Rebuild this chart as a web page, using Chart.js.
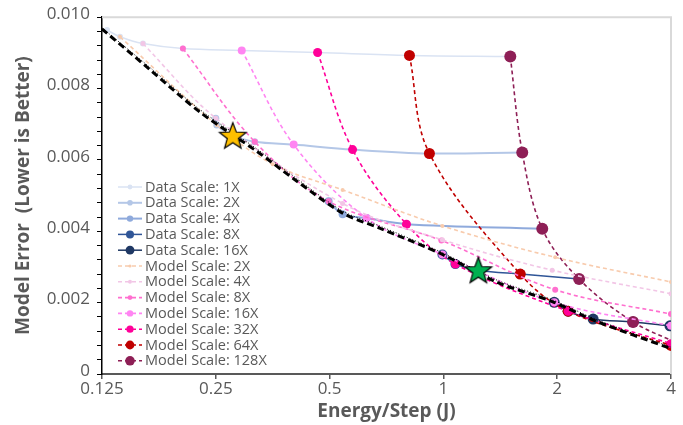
<!DOCTYPE html>
<html>
<head>
<meta charset="utf-8">
<script src="https://cdn.jsdelivr.net/npm/chart.js@4"></script>
<style>
  html, body { margin: 0; padding: 0; background: #fff; }
  #wrap { width: 683px; height: 425px; }
</style>
</head>
<body>
<div id="wrap"><canvas id="chart"></canvas></div>
<script>
// tick labels on the energy axis
const xTicks = [0.125, 0.25, 0.5, 1, 2, 4];

// data scale series: [energy per step (J), model error]
const dataScale1x = [[0.1289, 0.00964], [0.1395, 0.00945], [0.1604, 0.00926], [0.2046, 0.00912], [0.2928, 0.00907], [0.4648, 0.00901], [0.8132, 0.00893], [1.503, 0.00890]];
const dataScale2x = [[0.25, 0.00717], [0.2515, 0.00698], [0.2772, 0.00668], [0.3169, 0.00651], [0.4017, 0.00643], [0.5751, 0.00629], [0.9184, 0.00618], [1.6165, 0.00621]];
const dataScale4x = [[0.497, 0.00484], [0.5412, 0.00448], [0.6261, 0.00437], [0.7985, 0.00420], [1.8258, 0.00407]];
const dataScale8x = [[0.9939, 0.00335], [1.0757, 0.00308], [1.2372, 0.00291], [1.597, 0.00280], [2.286, 0.00266]];
const dataScale16x = [[1.964, 0.00201], [2.138, 0.00176], [2.4895, 0.00154], [3.175, 0.00146], [3.975, 0.00135]];

// model scale series
const modelScale2x = [[0.1395, 0.00945], [0.2515, 0.00698], [0.3536, 0.00588], [0.5412, 0.00516], [0.9939, 0.00415], [1.976, 0.00327], [4.0, 0.00258]];
const modelScale4x = [[0.1604, 0.00926], [0.25, 0.00717], [0.5412, 0.00478], [0.9939, 0.00376], [1.94, 0.00291], [4.0, 0.00225]];
const modelScale8x = [[0.2046, 0.00912], [0.3169, 0.00651], [0.497, 0.00484], [0.9879, 0.00374], [1.976, 0.00236], [4.0, 0.00168]];
const modelScale16x = [[0.2928, 0.00907], [0.4017, 0.00643], [0.6261, 0.00437], [0.9939, 0.00335], [1.964, 0.00201], [4.0, 0.00135]];
const modelScale32x = [[0.4648, 0.00901], [0.5751, 0.00629], [0.7985, 0.00420], [1.0757, 0.00308], [2.138, 0.00176], [4.0, 0.00085]];
const modelScale64x = [[0.8132, 0.00893], [0.9184, 0.00618], [1.597, 0.00280], [2.138, 0.00176], [4.0, 0.00080]];
const modelScale128x = [[1.503, 0.00890], [1.6165, 0.00621], [1.8258, 0.00407], [2.286, 0.00266], [3.175, 0.00146], [4.3, 0.00080]];

// frontier lines (dashed and dotted black)
const frontierDashed = [[0.125, 0.00967], [0.167, 0.00854], [0.227, 0.00734], [0.321, 0.00624], [0.409, 0.00541], [0.541, 0.00451], [0.678, 0.00409], [0.994, 0.00335], [1.38, 0.00258], [1.94, 0.00203], [2.535, 0.00148], [4.0, 0.00071]];
const frontierDotted = [[0.125, 0.00970], [0.167, 0.00860], [0.227, 0.00741], [0.321, 0.00631], [0.409, 0.00548], [0.541, 0.00457], [0.678, 0.00415], [0.994, 0.00340], [1.38, 0.00264], [1.94, 0.00208], [2.535, 0.00153], [4.0, 0.00075]];

// highlighted points
const goldStar = [[0.2772, 0.00665]];
const greenStar = [[1.2372, 0.00288]];

const pts = arr => arr.map(p => ({ x: p[0], y: p[1] }));

function starImage(fill, r) {
    const c = document.createElement('canvas');
    const s = Math.ceil(r * 2 + 4);
    c.width = s; c.height = s;
    const g = c.getContext('2d');
    g.beginPath();
    for (let i = 0; i < 10; i++) {
        const a = -Math.PI / 2 + i * Math.PI / 5;
        const rr = i % 2 ? r * 0.42 : r;
        g.lineTo(s / 2 + rr * Math.cos(a), s / 2 + rr * Math.sin(a));
    }
    g.closePath();
    g.fillStyle = fill;
    g.fill();
    g.lineWidth = 1.2;
    g.strokeStyle = '#000';
    g.stroke();
    return c;
}

function dataSeries(label, data, color, width, radius) {
    return {
        label, data: pts(data), borderColor: color, backgroundColor: color,
        pointBackgroundColor: color, pointBorderColor: color, pointBorderWidth: 0,
        borderWidth: width, pointRadius: radius, tension: 0.35, order: 3
    };
}
function modelSeries(label, data, color, radius) {
    return {
        label, data: pts(data), borderColor: color, backgroundColor: color,
        pointBackgroundColor: color, pointBorderColor: color, pointBorderWidth: 0,
        borderWidth: 1.6, borderDash: [4, 3], pointRadius: radius, tension: 0.35, order: 2
    };
}

const datasets = [
    dataSeries('Data Scale: 1X', dataScale1x, '#dae3f3', 1.5, 3),
    dataSeries('Data Scale: 2X', dataScale2x, '#b4c7e7', 2, 3.5),
    dataSeries('Data Scale: 4X', dataScale4x, '#8faadc', 2, 4),
    dataSeries('Data Scale: 8X', dataScale8x, '#2f5597', 1.5, 5),
    dataSeries('Data Scale: 16X', dataScale16x, '#1f3864', 1.5, 5.5),
    modelSeries('Model Scale: 2X', modelScale2x, '#f8cbad', 2),
    modelSeries('Model Scale: 4X', modelScale4x, '#f2c6e6', 2.5),
    modelSeries('Model Scale: 8X', modelScale8x, '#ff6fcf', 3),
    modelSeries('Model Scale: 16X', modelScale16x, '#ff85f2', 4),
    modelSeries('Model Scale: 32X', modelScale32x, '#ff0099', 4.5),
    modelSeries('Model Scale: 64X', modelScale64x, '#c00000', 5.5),
    modelSeries('Model Scale: 128X', modelScale128x, '#8e1f56', 6),
    { data: pts(frontierDashed), borderColor: '#000', borderWidth: 3, borderDash: [7, 4], pointRadius: 0, tension: 0.3, order: 1 },
    { data: pts(frontierDotted), borderColor: '#000', borderWidth: 1, borderDash: [1, 2], pointRadius: 0, tension: 0.3, order: 1 },
    { data: pts(goldStar), showLine: false, pointStyle: starImage('#ffc000', 14), order: 0 },
    { data: pts(greenStar), showLine: false, pointStyle: starImage('#00b050', 14), order: 0 }
];

// legend drawn inside the plot area
const insideLegend = {
    id: 'insideLegend',
    afterDatasetsDraw(chart) {
        const ctx = chart.ctx;
        let y = 187;
        ctx.save();
        ctx.font = '14.5px "Open Sans"';
        ctx.textBaseline = 'middle';
        chart.data.datasets.forEach(ds => {
            if (!ds.label) return;
            ctx.strokeStyle = ds.borderColor;
            ctx.lineWidth = ds.borderWidth;
            ctx.setLineDash(ds.borderDash || []);
            ctx.beginPath();
            ctx.moveTo(118, y);
            ctx.lineTo(142, y);
            ctx.stroke();
            ctx.setLineDash([]);
            ctx.fillStyle = ds.pointBackgroundColor;
            ctx.beginPath();
            ctx.arc(130, y, ds.pointRadius * 0.8, 0, Math.PI * 2);
            ctx.fill();
            ctx.fillStyle = '#595959';
            ctx.fillText(ds.label, 145, y + 0.5);
            y += 15.8;
        });
        ctx.restore();
    }
};

// light grey frame on top and right
const frame = {
    id: 'frame',
    beforeDatasetsDraw(chart) {
        const { ctx, chartArea: a } = chart;
        ctx.save();
        ctx.strokeStyle = '#d9d9d9';
        ctx.lineWidth = 2;
        ctx.beginPath();
        ctx.moveTo(a.left, a.top);
        ctx.lineTo(a.right, a.top);
        ctx.lineTo(a.right, a.bottom);
        ctx.stroke();
        ctx.restore();
    }
};

new Chart(document.getElementById('chart'), {
    type: 'line',
    data: { datasets },
    plugins: [frame, insideLegend],
    options: {
        responsive: true,
        maintainAspectRatio: false,
        animation: false,
        layout: { padding: { top: 10, right: 12, left: 0, bottom: 0 } },
        plugins: { legend: { display: false }, tooltip: { enabled: false } },
        scales: {
            x: {
                type: 'logarithmic',
                min: 0.125,
                max: 4,
                afterBuildTicks: s => { s.ticks = xTicks.map(v => ({ value: v })); },
                afterFit: s => { s.height = 51; },
                ticks: {
                    color: '#595959',
                    font: { family: 'Open Sans', size: 17 },
                    padding: 0,
                    maxRotation: 0,
                    autoSkip: false,
                    callback: v => String(v)
                },
                grid: { drawOnChartArea: false, drawTicks: true, tickLength: 5, color: '#595959', lineWidth: 1.5 },
                border: { color: '#595959', width: 2 },
                title: {
                    display: true, text: 'Energy/Step (J)', color: '#595959',
                    font: { family: 'Open Sans', size: 19, weight: 'bold' },
                    padding: { top: 0, bottom: 2 }
                }
            },
            y: {
                min: 0,
                max: 0.010,
                afterFit: s => { s.width = 102; },
                ticks: {
                    stepSize: 0.0004,
                    color: '#595959',
                    font: { family: 'Open Sans', size: 17 },
                    padding: 7,
                    labelOffset: -3,
                    autoSkip: false,
                    callback: v => {
                        const k = Math.round(v / 0.0004);
                        if (k % 5 !== 0) return '';
                        return k === 0 ? '0' : v.toFixed(3);
                    }
                },
                grid: { drawOnChartArea: false, drawTicks: true, tickLength: 5, color: '#000', lineWidth: 1 },
                border: { color: '#000', width: 1.5 },
                title: {
                    display: true, text: 'Model Error  (Lower is Better)', color: '#595959',
                    font: { family: 'Open Sans', size: 19, weight: 'bold' },
                    padding: { top: 12, bottom: 0 }
                }
            }
        }
    }
});
</script>
</body>
</html>
